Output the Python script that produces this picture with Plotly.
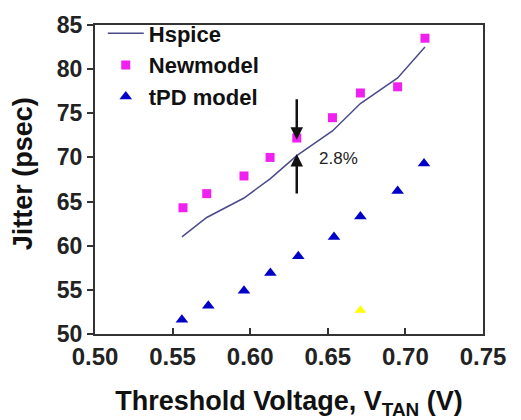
import plotly.graph_objects as go

# Data
hs_x = [0.556, 0.572, 0.596, 0.613, 0.630, 0.653, 0.671, 0.695, 0.7126]
hs_y = [61.0, 63.2, 65.4, 67.6, 70.2, 73.0, 76.1, 79.0, 82.5]

nm_x = [0.5567, 0.572, 0.596, 0.6128, 0.630, 0.653, 0.671, 0.695, 0.7126]
nm_y = [64.3, 65.9, 67.9, 70.0, 72.2, 74.5, 77.3, 78.0, 83.5]

tpd_x = [0.556, 0.573, 0.596, 0.613, 0.631, 0.654, 0.671, 0.695, 0.712]
tpd_y = [51.6, 53.2, 54.9, 56.9, 58.8, 61.0, 63.3, 66.2, 69.3]

odd_x = [0.671]
odd_y = [52.7]

x_ticks = [0.50, 0.55, 0.60, 0.65, 0.70, 0.75]
y_ticks = [50, 55, 60, 65, 70, 75, 80, 85]

FONT = "Liberation Sans, Arial, sans-serif"

fig = go.Figure()
fig.add_trace(go.Scatter(x=hs_x, y=hs_y, mode="lines", name="<b>Hspice</b>",
                         line=dict(color="#4b4a8c", width=1.5)))
fig.add_trace(go.Scatter(x=nm_x, y=nm_y, mode="markers", name="<b>Newmodel</b>",
                         marker=dict(symbol="square", size=9, color="#f020f0")))
fig.add_trace(go.Scatter(x=tpd_x, y=tpd_y, mode="markers", name="<b>tPD model</b>",
                         marker=dict(symbol="triangle-up", size=11, color="#0000c8")))
fig.add_trace(go.Scatter(x=odd_x, y=odd_y, mode="markers", showlegend=False,
                         marker=dict(symbol="triangle-up", size=10, color="#ffff00")))

# arrows and label
fig.add_annotation(x=0.630, y=72.0, ax=0, ay=-42, xref="x", yref="y",
                   showarrow=True, arrowhead=2, arrowsize=1, arrowwidth=2.5,
                   arrowcolor="#111111", text="")
fig.add_annotation(x=0.630, y=70.4, ax=0, ay=41, xref="x", yref="y",
                   showarrow=True, arrowhead=2, arrowsize=1, arrowwidth=2.5,
                   arrowcolor="#111111", text="")
fig.add_annotation(x=0.6566, y=69.85, xref="x", yref="y", showarrow=False,
                   text="2.8%", font=dict(family=FONT, size=17, color="#222222"))

# y-axis title
fig.add_annotation(x=(23 - 95) / 388, y=(334 - 168) / 321, xref="paper", yref="paper",
                   showarrow=False, xanchor="center", yanchor="middle",
                   text="<b>Jitter (psec)</b>", textangle=-90,
                   font=dict(family=FONT, size=27, color="#111111"))

fig.update_layout(
    width=521, height=420,
    margin=dict(l=95, r=38, t=13, b=86),
    paper_bgcolor="white", plot_bgcolor="white",
    font=dict(family=FONT, color="#111111"),
    showlegend=True,
    legend=dict(x=0.02, y=1 + 13 / 321, xanchor="left", yanchor="top",
                bgcolor="rgba(0,0,0,0)",
                font=dict(family=FONT, size=22, color="#111111"),
                itemwidth=36, tracegroupgap=0),
    xaxis=dict(range=[0.50, 0.75], tickvals=x_ticks, automargin=False,
               ticktext=["<b>%.2f</b>" % v for v in x_ticks],
               ticks="inside", ticklen=6, tickwidth=1.5, tickcolor="#333",
               showline=True, linecolor="#333", linewidth=2, mirror=True,
               showgrid=False, zeroline=False,
               tickfont=dict(family=FONT, size=24, color="#222"),
               title=dict(text="<b>Threshold Voltage, V<sub>TAN</sub> (V)</b>",
                          font=dict(family=FONT, size=27, color="#111"),
                          standoff=29)),
    yaxis=dict(range=[50, 85], tickvals=y_ticks, automargin=False,
               ticktext=["<b>%d</b>" % v for v in y_ticks],
               ticks="outside", ticklen=6, tickwidth=1.5, tickcolor="#333",
               showline=True, linecolor="#333", linewidth=2, mirror=True,
               showgrid=False, zeroline=False,
               tickfont=dict(family=FONT, size=23, color="#222")),
)

fig.write_html("out.html")
